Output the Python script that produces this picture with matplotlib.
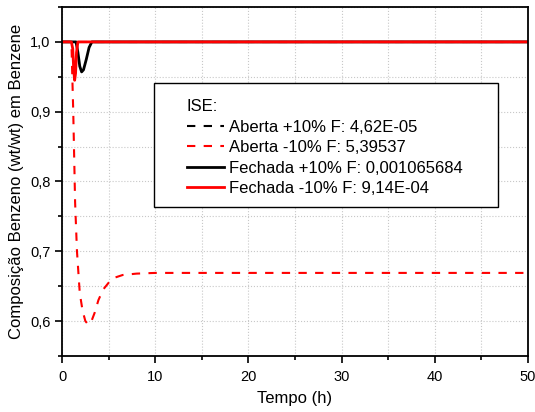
import matplotlib.pyplot as plt
from matplotlib.ticker import MultipleLocator
from matplotlib.patches import Rectangle

plt.rcParams['font.family'] = ['Liberation Sans', 'DejaVu Sans']

# Aberta +10% F
t_ab_mais = [0, 50]
y_ab_mais = [1.0, 1.0]

# Aberta -10% F
t_ab_menos = [0, 1.0, 1.2, 1.4, 1.6, 1.9, 2.2, 2.5, 2.8, 3.1, 3.5, 3.9, 4.4, 5.0, 5.6, 6.5, 8, 10, 50]
y_ab_menos = [1.0, 1.0, 0.9, 0.77, 0.70, 0.64, 0.615, 0.60, 0.595, 0.598, 0.612, 0.63, 0.645,
              0.655, 0.662, 0.666, 0.668, 0.669, 0.669]

# Fechada +10% F
t_fe_mais = [0, 1.5, 1.7, 1.9, 2.1, 2.3, 2.6, 2.9, 3.2, 50]
y_fe_mais = [1.0, 1.0, 0.985, 0.965, 0.957, 0.96, 0.975, 0.992, 1.0, 1.0]

# Fechada -10% F
t_fe_menos = [0, 1.0, 1.15, 1.25, 1.35, 1.45, 1.55, 1.7, 50]
y_fe_menos = [1.0, 1.0, 0.99, 0.96, 0.945, 0.955, 0.985, 1.0, 1.0]

legendas = ["Aberta +10% F: 4,62E-05",
            "Aberta -10% F: 5,39537",
            "Fechada +10% F: 0,001065684",
            "Fechada -10% F: 9,14E-04"]

x_ticks = [0, 10, 20, 30, 40, 50]
y_ticks = [0.6, 0.7, 0.8, 0.9, 1.0]
y_tick_labels = ["0,6", "0,7", "0,8", "0,9", "1,0"]

fig = plt.figure(figsize=(5.35, 4.12), dpi=100)
ax = fig.add_axes([0.116, 0.136, 0.871, 0.847])

tracejado = (0, (4, 4))
ax.plot(t_ab_mais, y_ab_mais, color='black', ls=tracejado, lw=1.5, label=legendas[0])
ax.plot(t_ab_menos, y_ab_menos, color='red', ls=tracejado, lw=1.5, label=legendas[1])
ax.plot(t_fe_mais, y_fe_mais, color='black', lw=2, label=legendas[2])
ax.plot(t_fe_menos, y_fe_menos, color='red', lw=2, label=legendas[3])

ax.set_xlim(0, 50)
ax.set_ylim(0.55, 1.05)
ax.set_xticks(x_ticks)
ax.set_yticks(y_ticks)
ax.set_yticklabels(y_tick_labels)
ax.xaxis.set_minor_locator(MultipleLocator(5))
ax.yaxis.set_minor_locator(MultipleLocator(0.05))
ax.tick_params(which='major', direction='out', length=5, width=1.2, labelsize=10.5)
ax.tick_params(axis='x', which='major', pad=5)
ax.tick_params(which='minor', direction='out', length=3, width=1.2)
ax.grid(True, which='both', ls=':', color='#c8c8c8', lw=0.8)
for s in ax.spines.values():
    s.set_linewidth(1.3)

ax.set_xlabel("Tempo (h)", fontsize=12, labelpad=5)
ax.set_ylabel("Composição Benzeno (wt/wt) em Benzene", fontsize=12)

# moldura da legenda
ax.add_patch(Rectangle((0.197, 0.427), 0.739, 0.355, transform=ax.transAxes,
                       facecolor='white', edgecolor='black', lw=1.0, zorder=4))
leg = ax.legend(loc='upper left', bbox_to_anchor=(0.268, 0.736), borderaxespad=0,
                title="ISE:", fontsize=12, title_fontsize=12, frameon=False,
                handlelength=2.2, handletextpad=0.3, labelspacing=0.33, borderpad=0)
leg._legend_box.align = "left"
leg.set_zorder(5)

fig.savefig("out.png", dpi=100)
